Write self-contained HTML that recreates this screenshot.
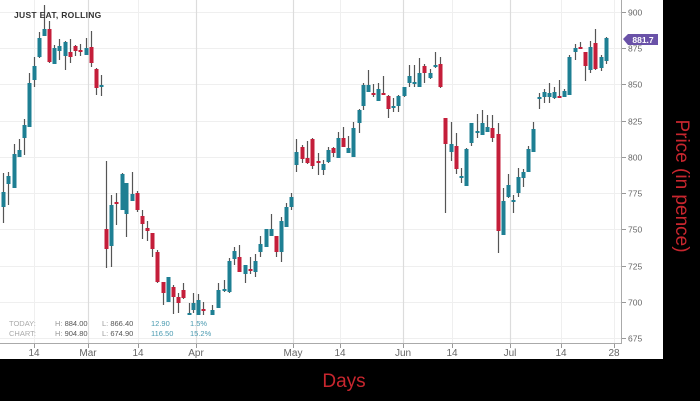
<!DOCTYPE html>
<html><head><meta charset="utf-8"><style>
html,body{margin:0;padding:0;background:#000;width:700px;height:401px;overflow:hidden}
svg{display:block}
</style></head><body>
<svg width="700" height="401" xmlns="http://www.w3.org/2000/svg" font-family="Liberation Sans, sans-serif">
<rect width="700" height="401" fill="#000"/>
<rect x="0" y="0" width="663" height="359" fill="#fff"/>
<g stroke="#efefef" stroke-width="1">
<line x1="0" x2="621" y1="12.5" y2="12.5"/><line x1="0" x2="621" y1="48.5" y2="48.5"/>
<line x1="0" x2="621" y1="84.5" y2="84.5"/><line x1="0" x2="621" y1="121.5" y2="121.5"/>
<line x1="0" x2="621" y1="157.5" y2="157.5"/><line x1="0" x2="621" y1="193.5" y2="193.5"/>
<line x1="0" x2="621" y1="229.5" y2="229.5"/><line x1="0" x2="621" y1="266.5" y2="266.5"/>
<line x1="0" x2="621" y1="302.5" y2="302.5"/><line x1="0" x2="621" y1="338.5" y2="338.5"/>
<line x1="34.5" x2="34.5" y1="0" y2="343"/><line x1="138.5" x2="138.5" y1="0" y2="343"/>
<line x1="340.5" x2="340.5" y1="0" y2="343"/><line x1="452.5" x2="452.5" y1="0" y2="343"/>
<line x1="561.5" x2="561.5" y1="0" y2="343"/><line x1="614.5" x2="614.5" y1="0" y2="343"/>
</g>
<g stroke="#dcdcdc" stroke-width="1.2">
<line x1="88.5" x2="88.5" y1="0" y2="343"/><line x1="196.5" x2="196.5" y1="0" y2="343"/>
<line x1="293.5" x2="293.5" y1="0" y2="343"/><line x1="403.5" x2="403.5" y1="0" y2="343"/>
<line x1="510.5" x2="510.5" y1="0" y2="343"/>
</g>
<path stroke="#555" stroke-width="1.2" fill="none" d="M3.5 173V223M8.5 172V205M14.5 144V188M19.5 139V157M24.5 119V155M29.5 73V127M34.5 57V87M39.5 32V58M44.5 5V36M49.5 21V63M54.5 45V64M59.5 39V60M65.5 41V70M70.5 39V63M75.5 45V56M80.5 44V56M86.5 38V55M91.5 31V67M96.5 68V95M101.5 75V96M106.5 161V268M111.5 195V267M116.5 193V225M122.5 173V210M126.5 183V237M132.5 172V201M137.5 191V212M142.5 210V239M147.5 221V241M152.5 233V257M157.5 250V283M163.5 282V305M168.5 277V302M173.5 285V314M178.5 293V313M183.5 283V299M189.5 303V315M193.5 293V313M198.5 294V315M203.5 302V315M212.5 305V315M218.5 283V308M224.5 280V292M229.5 258V293M234.5 247V265M239.5 245V272M245.5 265V283M250.5 257V274M255.5 254V277M260.5 236V257M266.5 229V247M271.5 214V236M276.5 236V257M281.5 217V262M286.5 203V227M291.5 193V210M296.5 139V172M302.5 145V163M307.5 141V164M312.5 138V169M318.5 153V175M323.5 160V175M328.5 147V163M333.5 147V157M338.5 132V158M343.5 127V147M348.5 136V153M353.5 122V157M359.5 109V133M363.5 83V110M368.5 70V92M373.5 84V97M378.5 83V101M383.5 76V95M388.5 95V118M393.5 98V112M398.5 95V112M404.5 87V97M409.5 65V87M414.5 65V87M419.5 58V87M424.5 64V83M430.5 69V79M435.5 52V68M440.5 57V88M445.5 118V213M451.5 122V161M456.5 133V174M461.5 168V183M466.5 148V186M471.5 123V146M477.5 114V138M482.5 110V135M487.5 115V132M492.5 115V142M498.5 123V253M503.5 188V235M508.5 174V198M513.5 195V213M518.5 168V197M523.5 169V187M528.5 146V172M533.5 122V152M539.5 93V109M544.5 89V103M549.5 83V103M554.5 87V99M559.5 80V98M564.5 89V97M569.5 55V95M575.5 44V60M580.5 42V49M585.5 52V81M590.5 41V73M595.5 29V70M601.5 55V71M606.5 37V64"/>
<path fill="#1e7f93" d="M1.5 192h4v15h-4zM6.5 176h4v8h-4zM12.5 154h4v34h-4zM17.5 150h4v7h-4zM22.5 125h4v13h-4zM27.5 83h4v44h-4zM32.5 66h4v14h-4zM37.5 38h4v19h-4zM42.5 29h4v7h-4zM52.5 48h4v16h-4zM57.5 46h4v5h-4zM63.5 42h4v14h-4zM84.5 48h4v7h-4zM99.5 85h4v2h-4zM109.5 205h4v41h-4zM120.5 174h4v36h-4zM124.5 183h4v31h-4zM130.5 194h4v7h-4zM166.5 277h4v25h-4zM187.5 313h4v2h-4zM191.5 303h4v7h-4zM196.5 300h4v15h-4zM210.5 310h4v5h-4zM216.5 290h4v18h-4zM222.5 289h4v2h-4zM227.5 261h4v31h-4zM232.5 251h4v8h-4zM243.5 265h4v9h-4zM253.5 261h4v11h-4zM258.5 244h4v8h-4zM264.5 229h4v18h-4zM269.5 229h4v7h-4zM279.5 221h4v31h-4zM284.5 207h4v20h-4zM289.5 197h4v10h-4zM294.5 152h4v13h-4zM321.5 164h4v6h-4zM326.5 150h4v12h-4zM336.5 138h4v20h-4zM346.5 148h4v5h-4zM351.5 128h4v29h-4zM357.5 110h4v13h-4zM361.5 85h4v21h-4zM366.5 85h4v7h-4zM376.5 89h4v12h-4zM391.5 106h4v2h-4zM396.5 96h4v10h-4zM402.5 87h4v9h-4zM407.5 76h4v7h-4zM412.5 82h4v2h-4zM417.5 73h4v14h-4zM428.5 73h4v5h-4zM433.5 65h4v2h-4zM449.5 144h4v8h-4zM459.5 176h4v2h-4zM464.5 149h4v37h-4zM469.5 123h4v20h-4zM475.5 131h4v2h-4zM480.5 123h4v12h-4zM485.5 127h4v5h-4zM501.5 201h4v34h-4zM506.5 185h4v12h-4zM511.5 200h4v2h-4zM516.5 177h4v16h-4zM521.5 172h4v6h-4zM526.5 149h4v23h-4zM531.5 129h4v23h-4zM537.5 97h4v2h-4zM542.5 92h4v5h-4zM547.5 93h4v4h-4zM552.5 92h4v6h-4zM562.5 91h4v6h-4zM567.5 57h4v38h-4zM573.5 48h4v4h-4zM588.5 47h4v23h-4zM599.5 57h4v11h-4zM604.5 38h4v23h-4z"/>
<path fill="#c41e3a" d="M47.5 29h4v33h-4zM68.5 52h4v5h-4zM73.5 46h4v5h-4zM78.5 50h4v2h-4zM89.5 47h4v16h-4zM94.5 69h4v19h-4zM104.5 229h4v20h-4zM114.5 202h4v2h-4zM135.5 193h4v17h-4zM140.5 216h4v8h-4zM145.5 228h4v3h-4zM150.5 233h4v16h-4zM155.5 252h4v30h-4zM161.5 282h4v11h-4zM171.5 287h4v10h-4zM176.5 297h4v6h-4zM181.5 290h4v8h-4zM201.5 309h4v2h-4zM237.5 257h4v15h-4zM248.5 269h4v2h-4zM274.5 236h4v16h-4zM300.5 147h4v12h-4zM305.5 158h4v5h-4zM310.5 139h4v27h-4zM316.5 161h4v2h-4zM331.5 148h4v5h-4zM341.5 138h4v9h-4zM371.5 93h4v2h-4zM381.5 93h4v2h-4zM386.5 96h4v13h-4zM422.5 66h4v7h-4zM438.5 64h4v23h-4zM443.5 118h4v26h-4zM454.5 146h4v23h-4zM490.5 128h4v10h-4zM496.5 134h4v97h-4zM557.5 96h4v2h-4zM578.5 47h4v2h-4zM583.5 52h4v14h-4zM593.5 43h4v26h-4z"/>
<line x1="621.5" x2="621.5" y1="0" y2="344" stroke="#aaa"/>
<line x1="0" x2="622" y1="343.5" y2="343.5" stroke="#aaa"/>
<g stroke="#999">
<line x1="622" x2="626" y1="12.5" y2="12.5"/><line x1="622" x2="626" y1="48.5" y2="48.5"/><line x1="622" x2="626" y1="84.5" y2="84.5"/><line x1="622" x2="626" y1="121.5" y2="121.5"/><line x1="622" x2="626" y1="157.5" y2="157.5"/><line x1="622" x2="626" y1="193.5" y2="193.5"/><line x1="622" x2="626" y1="229.5" y2="229.5"/><line x1="622" x2="626" y1="266.5" y2="266.5"/><line x1="622" x2="626" y1="302.5" y2="302.5"/><line x1="622" x2="626" y1="338.5" y2="338.5"/>
<line x1="34.5" x2="34.5" y1="344" y2="348"/><line x1="88.5" x2="88.5" y1="344" y2="348"/><line x1="138.5" x2="138.5" y1="344" y2="348"/><line x1="196.5" x2="196.5" y1="344" y2="348"/><line x1="293.5" x2="293.5" y1="344" y2="348"/><line x1="340.5" x2="340.5" y1="344" y2="348"/><line x1="403.5" x2="403.5" y1="344" y2="348"/><line x1="452.5" x2="452.5" y1="344" y2="348"/><line x1="510.5" x2="510.5" y1="344" y2="348"/><line x1="561.5" x2="561.5" y1="344" y2="348"/><line x1="614.5" x2="614.5" y1="344" y2="348"/>
</g>
<g font-size="8.5" fill="#666">
<text x="628" y="15.5">900</text><text x="628" y="51.5">875</text><text x="628" y="87.5">850</text><text x="628" y="124.5">825</text><text x="628" y="160.5">800</text><text x="628" y="196.5">775</text><text x="628" y="232.5">750</text><text x="628" y="269.5">725</text><text x="628" y="305.5">700</text><text x="628" y="341.5">675</text>
</g>
<g font-size="10" fill="#666" text-anchor="middle">
<text x="34" y="356">14</text><text x="88" y="356">Mar</text><text x="138" y="356">14</text><text x="196" y="356">Apr</text><text x="293" y="356">May</text><text x="340" y="356">14</text><text x="403" y="356">Jun</text><text x="452" y="356">14</text><text x="510" y="356">Jul</text><text x="561" y="356">14</text><text x="614" y="356">28</text>
</g>
<path d="M623 39 L628 34 L658 34 L658 45 L628 45 Z" fill="#6a52a8"/>
<text x="643" y="42.8" font-size="8.5" font-weight="bold" fill="#fff" text-anchor="middle">881.7</text>
<text x="14" y="18" font-size="8.5" font-weight="bold" fill="#333" letter-spacing="0.3">JUST EAT, ROLLING</text>
<g font-size="7.5">
<text x="9" y="326" fill="#aaa">TODAY:</text><text x="55" y="326" fill="#999">H: <tspan fill="#555">884.00</tspan></text><text x="102" y="326" fill="#999">L: <tspan fill="#555">866.40</tspan></text><text x="151" y="326" fill="#4a9ab0">12.90</text><text x="190" y="326" fill="#4a9ab0">1.5%</text>
<text x="9" y="336" fill="#aaa">CHART:</text><text x="55" y="336" fill="#999">H: <tspan fill="#555">904.80</tspan></text><text x="102" y="336" fill="#999">L: <tspan fill="#555">674.90</tspan></text><text x="151" y="336" fill="#4a9ab0">116.50</text><text x="190" y="336" fill="#4a9ab0">15.2%</text>
</g>
<text x="681" y="186" font-size="19" fill="#c8262e" text-anchor="middle" transform="rotate(90 681 186)" dominant-baseline="middle">Price (in pence)</text>
<text x="344" y="387" font-size="19" fill="#c8262e" text-anchor="middle">Days</text>
</svg>
</body></html>
